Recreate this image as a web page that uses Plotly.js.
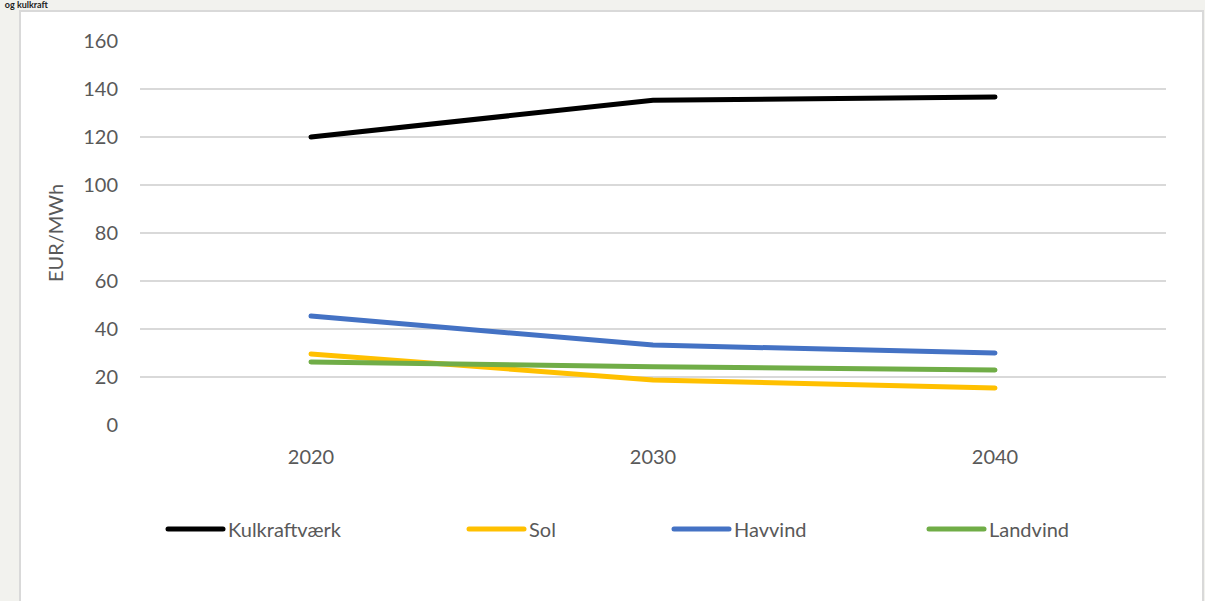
<!DOCTYPE html>
<html><head><meta charset="utf-8">
<script src="https://cdn.plot.ly/plotly-3.0.1.min.js"></script>
<style>
html,body{margin:0;padding:0;background:#f2f2ee;}
#frame{position:absolute;left:19px;top:10px;width:1181px;height:600px;background:#fff;border:2px solid #d9d9d9;border-bottom:none;}
#chart{position:absolute;left:0;top:0;width:1205px;height:601px;}
.js-line{stroke-linecap:round;}
.legendlines path{stroke-linecap:round;}
</style></head>
<body>
<div id="frame"></div>
<div id="chart"></div>
<script>
const years = ['2020','2030','2040'];
const kulkraft = [120, 135.3, 136.7];
const sol = [29.6, 18.8, 15.4];
const havvind = [45.4, 33.3, 30.0];
const landvind = [26.3, 24.3, 22.9];
const seriesNames = ['Kulkraftværk','Sol','Havvind','Landvind'];
const seriesColors = ['#000000','#FFC000','#4472C4','#70AD47'];
const seriesValues = [kulkraft, sol, havvind, landvind];
const legendIds = ['legend','legend2','legend3','legend4'];
const legendLeft = [163, 464, 669, 924];

const FONT = 'Lato, "Open Sans", sans-serif';
const traces = seriesValues.map((v,i)=>({
  x: years, y: v, type:'scatter', mode:'lines', name: seriesNames[i],
  line:{color: seriesColors[i], width:5}, legend: legendIds[i]
}));

const layout = {
  width:1205, height:601,
  paper_bgcolor:'rgba(0,0,0,0)', plot_bgcolor:'rgba(0,0,0,0)',
  margin:{l:140, r:39, t:41, b:176},
  font:{family:FONT, color:'#595959', size:20},
  title:{text:'<b>og kulkraft</b>', x:0.004, xanchor:'left', xref:'container', yref:'container', y:0.997, yanchor:'top', pad:{t:0}, font:{family:FONT, size:9, color:'#222'}},
  xaxis:{type:'category', range:[-0.5,2.5], showgrid:false, zeroline:false, showline:false, ticks:'', ticklabelstandoff:18, tickfont:{size:20, color:'#595959'}},
  yaxis:{range:[0,160], dtick:20, showgrid:true, gridcolor:'#d9d9d9', gridwidth:1.5, zeroline:false, showline:false, ticks:'', ticklabelstandoff:21, tickfont:{size:20, color:'#595959'},
    title:{text:'EUR/MWh', standoff:14, font:{size:20, color:'#595959'}}},
  showlegend:true
};
legendIds.forEach((id,i)=>{
  layout[id] = {orientation:'h', xref:'container', yref:'container', x: legendLeft[i]/1205, xanchor:'left', y: 1-529/601, yanchor:'middle', itemwidth:55, font:{size:20, color:'#595959'}, bgcolor:'rgba(0,0,0,0)'};
});
Plotly.newPlot('chart', traces, layout, {displayModeBar:false, staticPlot:true});
</script>
</body></html>
